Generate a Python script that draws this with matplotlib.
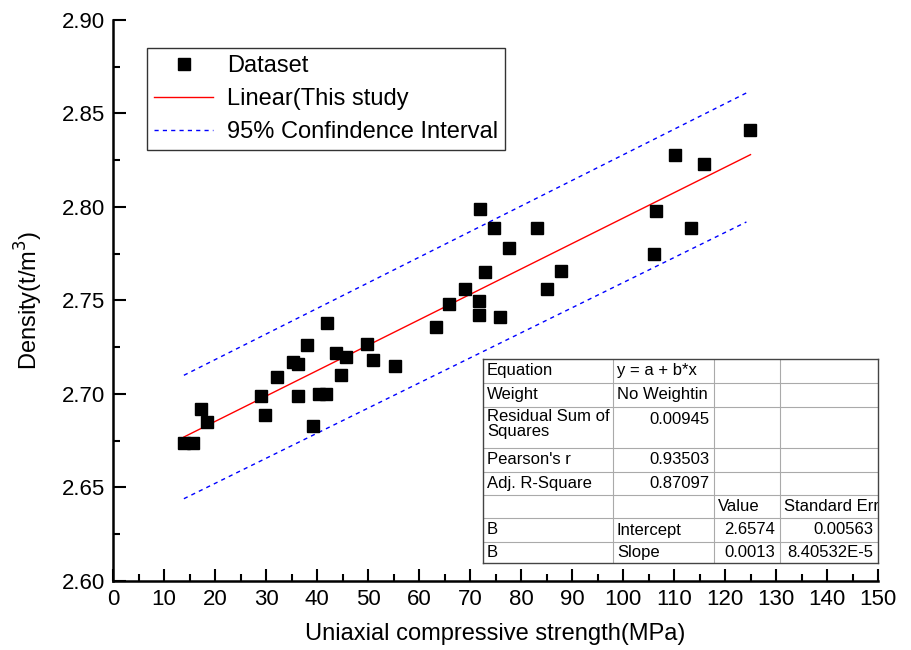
import numpy as np
import matplotlib
matplotlib.use("Agg")
import matplotlib.pyplot as plt
from matplotlib.ticker import MultipleLocator

plt.rcParams['font.family'] = ['Liberation Sans', 'DejaVu Sans']

# data
ucs = [13.9, 15.7, 17.2, 18.4, 29.0, 29.8, 32.1, 35.3, 36.3, 36.2,
       38.0, 39.2, 40.3, 41.7, 41.9, 43.8, 45.6, 44.8, 49.9, 50.9,
       55.2, 63.4, 65.8, 69.1, 71.7, 71.7, 75.8, 73.0, 71.9, 74.8,
       77.7, 83.2, 85.0, 87.9, 106.1, 106.5, 113.4, 110.2, 115.9, 124.9]
density = [2.674, 2.674, 2.692, 2.685, 2.699, 2.689, 2.709, 2.717, 2.716, 2.699,
           2.726, 2.683, 2.700, 2.700, 2.738, 2.722, 2.720, 2.710, 2.727, 2.718,
           2.715, 2.736, 2.748, 2.756, 2.750, 2.742, 2.741, 2.765, 2.799, 2.789,
           2.778, 2.789, 2.756, 2.766, 2.775, 2.798, 2.789, 2.828, 2.823, 2.841]

fit_x = [13.9, 125.0]
fit_y = [2.677, 2.828]
upper_x = [13.9, 124.2]
upper_y = [2.710, 2.861]
lower_x = [13.9, 124.2]
lower_y = [2.644, 2.792]

table_rows = [
    ["Equation", "y = a + b*x", "", ""],
    ["Weight", "No Weightin", "", ""],
    ["Residual Sum of\nSquares", "0.00945", "", ""],
    ["Pearson's r", "0.93503", "", ""],
    ["Adj. R-Square", "0.87097", "", ""],
    ["", "", "Value", "Standard Err"],
    ["B", "Intercept", "2.6574", "0.00563"],
    ["B", "Slope", "0.0013", "8.40532E-5"],
]
# alignment per cell: l = left, r = right
table_align = [
    ["l", "l", "l", "l"],
    ["l", "l", "l", "l"],
    ["l", "r", "l", "l"],
    ["l", "r", "l", "l"],
    ["l", "r", "l", "l"],
    ["l", "l", "l", "l"],
    ["l", "l", "r", "r"],
    ["l", "l", "r", "r"],
]

fig = plt.figure(figsize=(9.11, 6.5), dpi=100)
ax = fig.add_axes([113/911, 69/650, 765/911, 561/650])

ax.plot(ucs, density, 's', color='black', markersize=9, label='Dataset', zorder=3)
ax.plot(fit_x, fit_y, '-', color='red', lw=1.0, label='Linear(This study')
ax.plot(upper_x, upper_y, '--', color='blue', lw=1.0, dashes=(3, 3),
        label='95% Confindence Interval')
ax.plot(lower_x, lower_y, '--', color='blue', lw=1.0, dashes=(3, 3))

ax.set_xlim(0, 150)
ax.set_ylim(2.60, 2.90)
ax.xaxis.set_major_locator(MultipleLocator(10))
ax.xaxis.set_minor_locator(MultipleLocator(5))
ax.yaxis.set_major_locator(MultipleLocator(0.05))
ax.yaxis.set_minor_locator(MultipleLocator(0.025))
ax.yaxis.set_major_formatter(plt.FormatStrFormatter('%.2f'))
ax.tick_params(which='major', direction='in', length=9, width=1.5, labelsize=16, pad=6)
ax.tick_params(which='minor', direction='in', length=5, width=1.5)
for s in ['top', 'right']:
    ax.spines[s].set_visible(False)
for s in ['left', 'bottom']:
    ax.spines[s].set_linewidth(1.8)

ax.set_xlabel('Uniaxial compressive strength(MPa)', fontsize=17, labelpad=9)
ax.set_ylabel('Density(t/m$^3$)', fontsize=17, labelpad=12)

leg = ax.legend(loc='upper left', bbox_to_anchor=(34/765, 1 - 28/561), fontsize=17,
                frameon=True, fancybox=False, edgecolor='black', handlelength=2.5,
                borderpad=0.3, labelspacing=0.47, handletextpad=0.6, borderaxespad=0)
leg.get_frame().set_linewidth(1.0)

# fit result table
col_edges = [0, 130, 231, 297, 395]
row_edges = [0, 24, 48, 89, 113, 136, 159, 183, 204]
tab = ax.inset_axes([(483 - 113) / 765, 18 / 561, 395 / 765, 204 / 561])
tab.set_xlim(0, 395)
tab.set_ylim(204, 0)
tab.set_xticks([])
tab.set_yticks([])
tab.set_facecolor('white')
for s in tab.spines.values():
    s.set_color('#444444')
    s.set_linewidth(1.0)
for x in col_edges[1:-1]:
    tab.axvline(x, color='#aaaaaa', lw=0.8)
for y in row_edges[1:-1]:
    tab.axhline(y, color='#aaaaaa', lw=0.8)
for i, row in enumerate(table_rows):
    y0, y1 = row_edges[i], row_edges[i + 1]
    for j, txt in enumerate(row):
        if not txt:
            continue
        x0, x1 = col_edges[j], col_edges[j + 1]
        if table_align[i][j] == 'r':
            tx, ha = x1 - 5, 'right'
        else:
            tx, ha = x0 + 4, 'left'
        if '\n' in txt:
            tab.text(tx, y0 + 2, txt, ha=ha, va='top', fontsize=12, linespacing=1.0)
        elif i == 2:
            tab.text(tx, y0 + 12, txt, ha=ha, va='center', fontsize=12)
        else:
            tab.text(tx, (y0 + y1) / 2, txt, ha=ha, va='center', fontsize=12, clip_on=True)

fig.savefig('out.png', dpi=100)
